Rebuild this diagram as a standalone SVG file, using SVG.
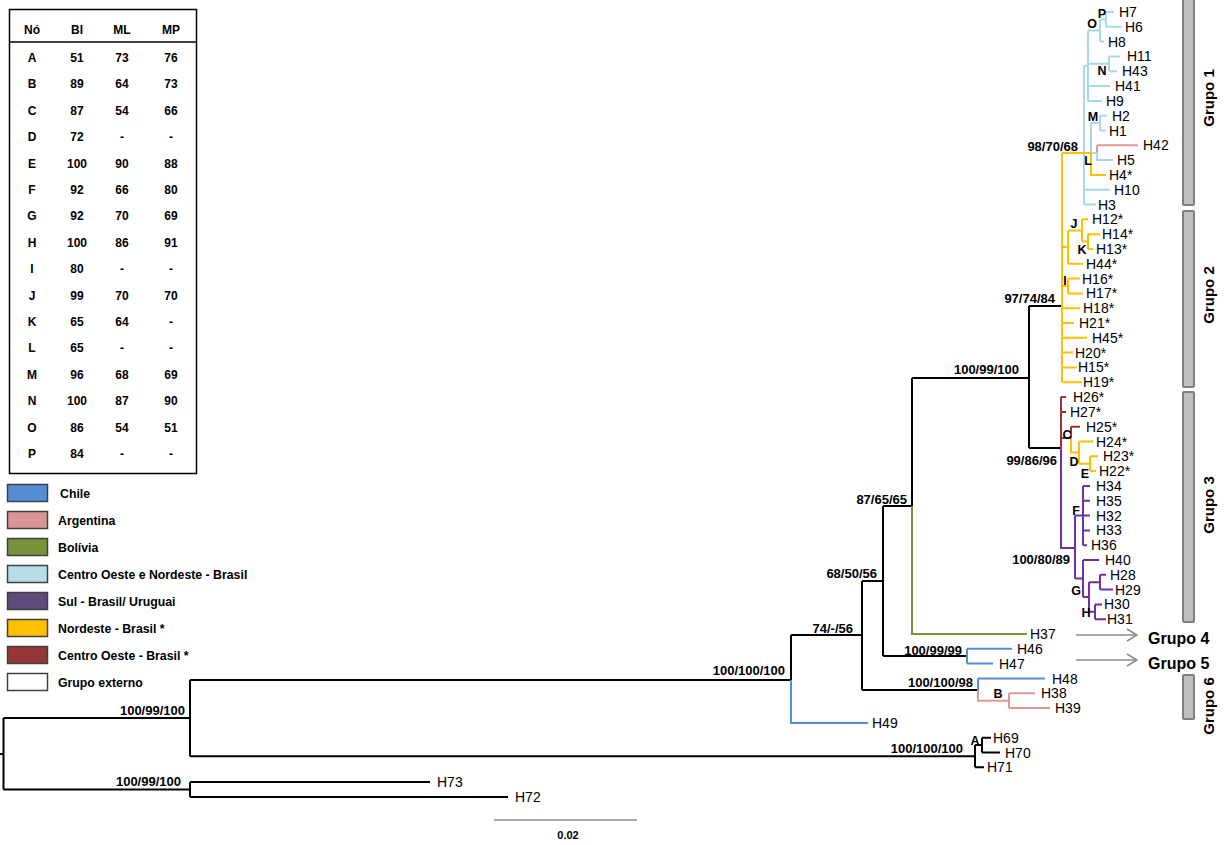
<svg xmlns="http://www.w3.org/2000/svg" width="1224" height="845" viewBox="0 0 1224 845">
<style>
text{font-family:"Liberation Sans",Arial,sans-serif;fill:#000}
.t{font-size:14px}
.s{font-size:13px;font-weight:bold;text-anchor:end}
.n{font-size:12.5px;font-weight:bold;text-anchor:middle}
.tb{font-size:12px;font-weight:bold;text-anchor:middle}
.lg{font-size:12.3px;font-weight:bold}
.g{font-size:16px;font-weight:bold}
path{fill:none;stroke-width:2}
.k{stroke:#000}.lb{stroke:#A9D9E8}.y{stroke:#FFC000}.br{stroke:#953735}.pu{stroke:#7030A0}.bl{stroke:#558ED5}.pk{stroke:#DE9996}.gr{stroke:#77933C}
.bar{fill:#BFBFBF;stroke:#7F7F7F;stroke-width:2}
.box{stroke:#404040;stroke-width:1.5}
</style>
<defs>
<marker id="ah" markerWidth="12" markerHeight="14" refX="11" refY="7" orient="auto" markerUnits="userSpaceOnUse">
<path d="M1 1 L11 7 L1 13" style="stroke:#8C8C8C;stroke-width:1.5;fill:none"/>
</marker>
</defs>
<rect width="1224" height="845" fill="#fff"/>

<g id="table">
<rect x="9.5" y="9.5" width="187" height="464" fill="#fff" stroke="#000" stroke-width="1.5"/>
<line x1="9.5" y1="42" x2="196.5" y2="42" stroke="#000" stroke-width="1.5"/>
<g class="tb">
<text x="32" y="34">Nó</text><text x="77" y="34">BI</text><text x="122" y="34">ML</text><text x="171" y="34">MP</text>
<text x="32" y="62">A</text><text x="77" y="62">51</text><text x="122" y="62">73</text><text x="171" y="62">76</text>
<text x="32" y="88">B</text><text x="77" y="88">89</text><text x="122" y="88">64</text><text x="171" y="88">73</text>
<text x="32" y="115">C</text><text x="77" y="115">87</text><text x="122" y="115">54</text><text x="171" y="115">66</text>
<text x="32" y="141">D</text><text x="77" y="141">72</text><text x="122" y="141">-</text><text x="171" y="141">-</text>
<text x="32" y="168">E</text><text x="77" y="168">100</text><text x="122" y="168">90</text><text x="171" y="168">88</text>
<text x="32" y="194">F</text><text x="77" y="194">92</text><text x="122" y="194">66</text><text x="171" y="194">80</text>
<text x="32" y="220">G</text><text x="77" y="220">92</text><text x="122" y="220">70</text><text x="171" y="220">69</text>
<text x="32" y="247">H</text><text x="77" y="247">100</text><text x="122" y="247">86</text><text x="171" y="247">91</text>
<text x="32" y="273">I</text><text x="77" y="273">80</text><text x="122" y="273">-</text><text x="171" y="273">-</text>
<text x="32" y="300">J</text><text x="77" y="300">99</text><text x="122" y="300">70</text><text x="171" y="300">70</text>
<text x="32" y="326">K</text><text x="77" y="326">65</text><text x="122" y="326">64</text><text x="171" y="326">-</text>
<text x="32" y="352">L</text><text x="77" y="352">65</text><text x="122" y="352">-</text><text x="171" y="352">-</text>
<text x="32" y="379">M</text><text x="77" y="379">96</text><text x="122" y="379">68</text><text x="171" y="379">69</text>
<text x="32" y="405">N</text><text x="77" y="405">100</text><text x="122" y="405">87</text><text x="171" y="405">90</text>
<text x="32" y="432">O</text><text x="77" y="432">86</text><text x="122" y="432">54</text><text x="171" y="432">51</text>
<text x="32" y="458">P</text><text x="77" y="458">84</text><text x="122" y="458">-</text><text x="171" y="458">-</text>
</g>
</g>

<g id="legend">
<rect class="box" x="7.5" y="484.5" width="40" height="17" fill="#558ED5"/><text class="lg" x="60" y="498">Chile</text>
<rect class="box" x="7.5" y="511.5" width="40" height="17" fill="#D99694"/><text class="lg" x="58" y="525">Argentina</text>
<rect class="box" x="7.5" y="538.5" width="40" height="17" fill="#77933C"/><text class="lg" x="58" y="552">Bolívia</text>
<rect class="box" x="7.5" y="565.5" width="40" height="17" fill="#B7DEE8"/><text class="lg" x="58" y="579">Centro Oeste e Nordeste - Brasil</text>
<rect class="box" x="7.5" y="592.5" width="40" height="17" fill="#604A7B"/><text class="lg" x="58" y="606">Sul - Brasil/ Uruguai</text>
<rect class="box" x="7.5" y="619.5" width="40" height="17" fill="#FFC000"/><text class="lg" x="58" y="633">Nordeste - Brasil *</text>
<rect class="box" x="7.5" y="646.5" width="40" height="17" fill="#953735"/><text class="lg" x="58" y="660">Centro Oeste - Brasil *</text>
<rect class="box" x="7.5" y="673.5" width="40" height="17" fill="#fff"/><text class="lg" x="58" y="687">Grupo externo</text>
</g>

<g id="connectors">
<path class="k" d="M0 754H3.5M3.5 718V789.5M3.5 718H190M3.5 789.5H190M190 680V756.2M190 680H791M190 756.2H975M190 782.1V796.9M190 782.1H430M190 796.9H508M975 745.1V767.3M975 745.1H982M982 737.7V752.5M982 737.7H991M982 752.5H1000M975 767.3H984M791 635V680M791 635H862M862 581V690M862 581H883M862 690H978M883 506V656M883 506H912M883 656H967M912 378V506M912 378H1029M1029 306V448M1029 306H1062M1029 448H1061"/>
<path class="bl" d="M791 680V722.9H868M967 648.8V663.6M967 648.8H1012M967 663.6H993M978 678.5V690M978 678.5H1045"/>
<path class="pk" d="M978 690V700.7H1009M1009 693.3V708.1M1009 693.3H1035M1009 708.1H1050M1097 145.3H1138M1097 145.3V153"/>
<path class="gr" d="M912 506V634H1027"/>
<path class="lb" d="M1084 65.7V204.5M1084 65.7H1088M1088 30.5V100.9M1088 30.5H1100M1100 19.4V41.6M1100 19.4H1106M1106 12V26.8M1106 12H1114M1106 26.8H1122M1100 41.6H1104M1088 63.8H1109M1109 56.4V71.2M1109 56.4H1120M1109 71.2H1117M1088 86.1H1110M1088 100.9H1102M1091 123.1V153M1091 123.1H1100M1100 115.7V130.5M1100 115.7H1107M1100 130.5H1106M1091 153H1097M1097 153V160.1H1113M1084 189.7H1110M1084 204.5H1096"/>
<path class="y" d="M1062 153V382.3M1062 153H1091M1091 153V174.9H1106M1062 247.1H1068M1068 230.5V263.8M1068 230.5H1082M1068 263.8H1083M1082 219.3V241.6M1082 219.3H1088M1082 241.6H1088M1088 234.2V249M1088 234.2H1100M1088 249H1093M1062 286H1068M1068 278.6V293.4M1068 278.6H1080M1068 293.4H1083M1062 308.2H1080M1062 323H1074M1062 337.8H1087M1062 352.6H1073M1062 367.4H1077M1062 382.3H1082M1071 438V452.6H1079M1079 441.5V463.7M1079 441.5H1093M1079 463.7H1090M1090 456.3V471.1M1090 456.3H1098M1090 471.1H1096"/>
<path class="br" d="M1061 397.1V448M1061 397.1H1066M1061 411.9H1066M1061 438H1071M1071 426.7V438M1071 426.7H1080"/>
<path class="pu" d="M1061 448V548H1075M1075 515.5V578.5M1075 515.5H1083M1083 485.9V545.2M1083 485.9H1090M1083 500.7H1090M1083 515.5H1090M1083 530.4H1090M1083 545.2H1087M1075 578.5H1083M1083 560V597M1083 560H1099M1083 597H1089M1089 582.2V611.8M1089 582.2H1100M1100 574.8V589.6M1100 574.8H1106M1100 589.6H1113M1089 611.8H1095M1095 604.4V619.2M1095 604.4H1102M1095 619.2H1106"/>
<line x1="1076" y1="635" x2="1137" y2="635" stroke="#8C8C8C" stroke-width="1.5" marker-end="url(#ah)"/>
<line x1="1076" y1="660" x2="1137" y2="660" stroke="#8C8C8C" stroke-width="1.5" marker-end="url(#ah)"/>
<line x1="494" y1="820" x2="637" y2="820" stroke="#555" stroke-width="1.2"/>
</g>

<g id="supports" class="s">
<text x="185" y="714.5">100/99/100</text>
<text x="181" y="785.5">100/99/100</text>
<text x="785" y="674.5">100/100/100</text>
<text x="963" y="752.5">100/100/100</text>
<text x="853" y="632.5">74/-/56</text>
<text x="877" y="577.5">68/50/56</text>
<text x="907" y="503.5">87/65/65</text>
<text x="962" y="654.5">100/99/99</text>
<text x="973" y="686.5">100/100/98</text>
<text x="1019" y="373.5">100/99/100</text>
<text x="1055" y="302.5">97/74/84</text>
<text x="1057" y="464.5">99/86/96</text>
<text x="1070" y="563.5">100/80/89</text>
<text x="1078" y="150.5">98/70/68</text>
</g>

<g id="node-letters" class="n">
<text x="1102" y="17.5">P</text>
<text x="1092" y="27.5">O</text>
<text x="1102" y="74.5">N</text>
<text x="1093" y="120.5">M</text>
<text x="1088" y="164.5">L</text>
<text x="1074" y="227.5">J</text>
<text x="1082" y="253.5">K</text>
<text x="1065" y="284.5">I</text>
<text x="1067" y="438.5">C</text>
<text x="1074" y="465.5">D</text>
<text x="1085" y="477.5">E</text>
<text x="1076" y="514.5">F</text>
<text x="1076" y="594.5">G</text>
<text x="1086" y="616.5">H</text>
<text x="998" y="697.5">B</text>
<text x="975" y="744.5">A</text>
</g>

<g id="tips" class="t">
<g id="H7"><text x="1119" y="17">H7</text></g>
<g id="H6"><text x="1125" y="31.8">H6</text></g>
<g id="H8"><text x="1108" y="46.6">H8</text></g>
<g id="H11"><text x="1127" y="61.4">H11</text></g>
<g id="H43"><text x="1122" y="76.2">H43</text></g>
<g id="H41"><text x="1115" y="91.1">H41</text></g>
<g id="H9"><text x="1106" y="105.9">H9</text></g>
<g id="H2"><text x="1112" y="120.7">H2</text></g>
<g id="H1"><text x="1109" y="135.5">H1</text></g>
<g id="H42"><text x="1143" y="150.3">H42</text></g>
<g id="H5"><text x="1117" y="165.1">H5</text></g>
<g id="H4"><text x="1109" y="179.9">H4*</text></g>
<g id="H10"><text x="1114" y="194.7">H10</text></g>
<g id="H3"><text x="1098" y="209.5">H3</text></g>
<g id="H12"><text x="1092" y="224.3">H12*</text></g>
<g id="H14"><text x="1102" y="239.2">H14*</text></g>
<g id="H13"><text x="1096" y="254">H13*</text></g>
<g id="H44"><text x="1086" y="268.8">H44*</text></g>
<g id="H16"><text x="1082" y="283.6">H16*</text></g>
<g id="H17"><text x="1086" y="298.4">H17*</text></g>
<g id="H18"><text x="1083" y="313.2">H18*</text></g>
<g id="H21"><text x="1079" y="328">H21*</text></g>
<g id="H45"><text x="1092" y="342.8">H45*</text></g>
<g id="H20"><text x="1075" y="357.6">H20*</text></g>
<g id="H15"><text x="1078" y="372.4">H15*</text></g>
<g id="H19"><text x="1083" y="387.3">H19*</text></g>
<g id="H26"><text x="1073" y="402.1">H26*</text></g>
<g id="H27"><text x="1070" y="416.9">H27*</text></g>
<g id="H25"><text x="1086" y="431.7">H25*</text></g>
<g id="H24"><text x="1096" y="446.5">H24*</text></g>
<g id="H23"><text x="1103" y="461.3">H23*</text></g>
<g id="H22"><text x="1099" y="476.1">H22*</text></g>
<g id="H34"><text x="1096" y="490.9">H34</text></g>
<g id="H35"><text x="1096" y="505.7">H35</text></g>
<g id="H32"><text x="1096" y="520.5">H32</text></g>
<g id="H33"><text x="1096" y="535.4">H33</text></g>
<g id="H36"><text x="1091" y="550.2">H36</text></g>
<g id="H40"><text x="1105" y="565">H40</text></g>
<g id="H28"><text x="1110" y="579.8">H28</text></g>
<g id="H29"><text x="1115" y="594.6">H29</text></g>
<g id="H30"><text x="1104" y="609.4">H30</text></g>
<g id="H31"><text x="1107" y="624.2">H31</text></g>
<g id="H37"><text x="1030" y="639">H37</text></g>
<g id="H46"><text x="1017" y="653.8">H46</text></g>
<g id="H47"><text x="999" y="668.6">H47</text></g>
<g id="H48"><text x="1052" y="683.5">H48</text></g>
<g id="H38"><text x="1041" y="698.3">H38</text></g>
<g id="H39"><text x="1055" y="713.1">H39</text></g>
<g id="H49"><text x="872" y="727.9">H49</text></g>
<g id="H69"><text x="993" y="742.7">H69</text></g>
<g id="H70"><text x="1005" y="757.5">H70</text></g>
<g id="H71"><text x="987" y="772.3">H71</text></g>
<g id="H73"><text x="437" y="787.1">H73</text></g>
<g id="H72"><text x="515" y="801.9">H72</text></g>
</g>

<g id="groups">
<rect class="bar" x="1183" y="-3" width="11" height="208" rx="1"/>
<rect class="bar" x="1183" y="211" width="11" height="176" rx="1"/>
<rect class="bar" x="1183" y="392" width="11" height="230" rx="1"/>
<rect class="bar" x="1183" y="675" width="11" height="44" rx="1"/>
<text class="g" transform="translate(1214 98) rotate(-90)" text-anchor="middle" style="font-size:15px">Grupo 1</text>
<text class="g" transform="translate(1214 295) rotate(-90)" text-anchor="middle" style="font-size:15px">Grupo 2</text>
<text class="g" transform="translate(1214 505) rotate(-90)" text-anchor="middle" style="font-size:15px">Grupo 3</text>
<text class="g" transform="translate(1214 706) rotate(-90)" text-anchor="middle" style="font-size:15px">Grupo 6</text>
<text class="g" x="1148" y="644">Grupo 4</text>
<text class="g" x="1148" y="669">Grupo 5</text>
</g>

<g id="scale">
<text x="568" y="839" style="font-size:11px;font-weight:bold" text-anchor="middle">0.02</text>
</g>
</svg>
